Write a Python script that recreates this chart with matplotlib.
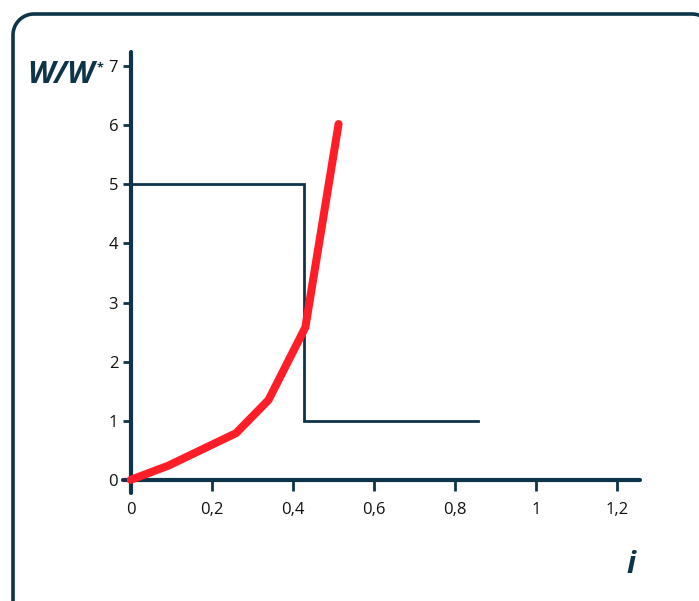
import matplotlib
matplotlib.use("Agg")
import matplotlib.pyplot as plt
import numpy as np

plt.rcParams['font.family'] = ['Open Sans', 'DejaVu Sans']

navy = '#0e3449'
red = '#ff1e28'

# red curve W/W* against i
curve_i = [0.0, 0.093, 0.26, 0.34, 0.431, 0.513]
curve_w = [0.0, 0.24, 0.79, 1.35, 2.58, 6.02]

# step line
step_i = [0.0, 0.4286, 0.4286, 0.856]
step_w = [5.0, 5.0, 1.0, 1.0]

xticks = [0, 0.2, 0.4, 0.6, 0.8, 1.0, 1.2]
xlabels = ['0', '0,2', '0,4', '0,6', '0,8', '1', '1,2']
yticks = [0, 1, 2, 3, 4, 5, 6, 7]

fig = plt.figure(figsize=(6.99, 6.01), dpi=100)

# rounded frame around the chart (pixel units on a background axes)
bg = fig.add_axes([0, 0, 1, 1])
bg.set_xlim(0, 699)
bg.set_ylim(601, 0)
bg.axis('off')
l, t, r, b, rad = 13, 14, 713, 640, 21
a = np.linspace(0, np.pi / 2, 20)
fx = np.concatenate([l + rad - rad * np.cos(a), r - rad + rad * np.sin(a)])
fy = np.concatenate([t + rad - rad * np.sin(a), t + rad - rad * np.cos(a)])
fx = np.concatenate([[l], fx, [r]])
fy = np.concatenate([[b], fy, [b]])
bg.plot(fx, fy, color=navy, lw=2.6, clip_on=False)

ax = fig.add_axes([0.176, 0.18, 0.7396, 0.7335])
ax.plot(step_i, step_w, color=navy, lw=2.0, solid_joinstyle='miter', zorder=2)
ax.plot(curve_i, curve_w, color=red, lw=5.8, solid_capstyle='round', zorder=3)

ax.set_xlim(-0.019, 1.257)
ax.set_ylim(-0.22, 7.24)
for s in ['top', 'right']:
    ax.spines[s].set_visible(False)
ax.spines['left'].set_position(('data', 0))
ax.spines['bottom'].set_position(('data', 0))
for s in ['left', 'bottom']:
    ax.spines[s].set_color(navy)
    ax.spines[s].set_linewidth(3.0)
    ax.spines[s].set_capstyle('round')

ax.set_xticks(xticks)
ax.set_xticklabels(xlabels)
ax.set_yticks(yticks)
ax.tick_params(axis='x', direction='out', length=8, width=2, color=navy,
               labelsize=12, labelcolor='#111111', pad=8)
ax.tick_params(axis='y', direction='out', length=6, width=2, color=navy,
               labelsize=12, labelcolor='#111111', pad=3)

wlab = fig.text(27 / 699, 1 - 83 / 601, 'W/W', fontsize=22, fontweight='bold',
                style='italic', color=navy, ha='left', va='baseline')
# asterisk hangs just right of the label's top corner
fig.canvas.draw()
bb = wlab.get_window_extent()
fig.text((bb.x1 + 2) / 699, (bb.y1 - 1) / 601, '*', fontsize=9,
         fontweight='bold', color=navy, ha='left', va='top')
fig.text(631 / 699, 1 - 573 / 601, 'i', fontsize=22, fontweight='bold',
         style='italic', color=navy, ha='center', va='baseline')

fig.savefig('out.png', dpi=100)
